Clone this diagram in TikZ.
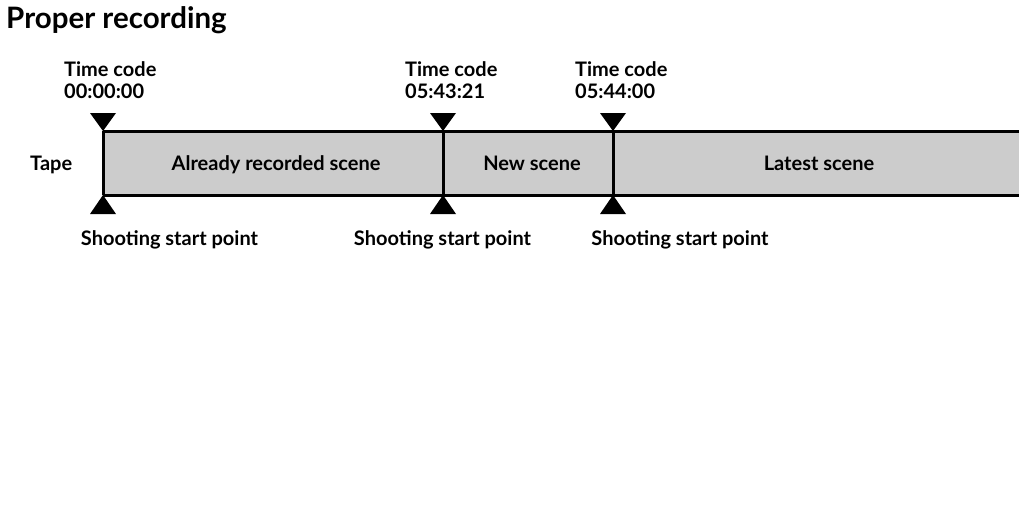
\documentclass[tikz,border=0pt]{standalone}
\usepackage{fontspec}
\setmainfont{Lato}[UprightFont=* Bold]
\begin{document}
\begin{tikzpicture}[x=1pt,y=-1pt,
  lbl/.style={inner sep=0pt,font=\fontsize{20}{22}\selectfont},
  tc/.style={lbl,align=left,anchor=base west},
  seg/.style={lbl,anchor=base},
  tri/.style={fill=black,draw=none},
  tapeline/.style={line width=3pt}]
\useasboundingbox (0,0) rectangle (1030,512);
\node[inner sep=0pt,anchor=base west,font=\fontsize{29.5}{33}\selectfont] (title) at (6,28) {Proper recording};
% tape
\fill[black!20] (103,131) rectangle (1019,195);
\coordinate (t0) at (103,131); \coordinate (b0) at (103,195);
\coordinate (t1) at (443,131); \coordinate (b1) at (443,195);
\coordinate (t2) at (613,131); \coordinate (b2) at (613,195);
\coordinate (te) at (1019,131); \coordinate (be) at (1019,195);
\draw[tapeline] (t0) -- (te);
\draw[tapeline] (b0) -- (be);
\draw[tapeline] (t0) -- (b0);
\draw[tapeline] (t1) -- (b1);
\draw[tapeline] (t2) -- (b2);
% triangles
\foreach \p in {t0,t1,t2}{
  \fill[tri] ([xshift=-13pt,yshift=18pt]\p) -- ([xshift=13pt,yshift=18pt]\p) -- (\p) -- cycle;
}
\foreach \p in {b0,b1,b2}{
  \fill[tri] ([xshift=-13pt,yshift=-19pt]\p) -- ([xshift=13pt,yshift=-19pt]\p) -- (\p) -- cycle;
}
% labels
\node[lbl,anchor=base west] (tape) at (30,170) {Tape};
\node[seg] (s1) at (276,170) {Already recorded scene};
\node[seg] (s2) at (532,170) {New scene};
\node[seg] (s3) at (819,170) {Latest scene};
\node[tc] (c0) at (64,98) {Time code\\00:00:00};
\node[tc] (c1) at (405,98) {Time code\\05:43:21};
\node[tc] (c2) at (575,98) {Time code\\05:44:00};
\node[seg] (p0) at (169.5,245) {Shooting start point};
\node[seg] (p1) at (442.5,245) {Shooting start point};
\node[seg] (p2) at (680,245) {Shooting start point};
\end{tikzpicture}
\end{document}
